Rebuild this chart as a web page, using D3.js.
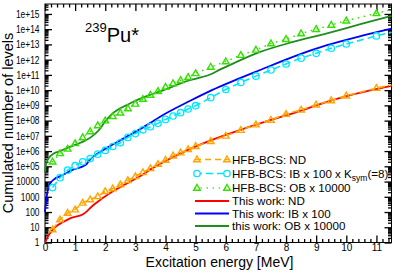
<!DOCTYPE html>
<html><head><meta charset="utf-8">
<script src="https://cdn.jsdelivr.net/npm/d3@7/dist/d3.min.js"></script>
<style>
body{margin:0;background:#fff}
svg{display:block}
text{font-family:"Liberation Sans",Arial,Helvetica,sans-serif;fill:#000}
</style>
</head><body>
<svg id="chart" width="394" height="273"></svg>
<script>
// ---------- data ----------
// HFB-BCS calculations (markers), excitation energy in MeV
const hfbEnergy = [0.25,0.5,0.75,1.0,1.25,1.5,1.75,2.0,2.25,2.5,2.75,3.0,3.25,3.5,3.75,4.0,4.25,4.5,4.75,5.0,
                   5.5,6.0,6.5,7.0,7.5,8.0,8.5,9.0,9.5,10.0,11.0,11.5];
const hfbND = [7.1,32,87,145,400,660,1070,2300,3500,6300,1.2e4,2.2e4,4.0e4,7.4e4,1.4e5,2.6e5,5.0e5,7.9e5,1.3e6,2.1e6,
               4.4e6,1.0e7,2.4e7,5.5e7,1.1e8,2.7e8,5.1e8,1.1e9,2.1e9,4.3e9,1.35e10,2.2e10];
const hfbIB = [4.0e3,1.8e4,5.6e4,1.1e5,2.0e5,3.2e5,6.3e5,1.1e6,2.0e6,3.5e6,7.9e6,1.4e7,2.5e7,4.0e7,6.6e7,1.2e8,2.0e8,3.3e8,5.8e8,9.5e8,
               3.2e9,1.1e10,3.2e10,8.3e10,2.1e11,5.2e11,1.26e12,2.6e12,5.6e12,1.07e13,3.6e13,6.3e13];
const hfbOB = [2.0e5,7.1e5,1.4e6,3.2e6,7.9e6,1.95e7,4.8e7,1.0e8,1.9e8,3.3e8,6.3e8,1.26e9,2.6e9,4.8e9,8.5e9,1.6e10,2.75e10,4.5e10,7.1e10,1.26e11,
               3.3e11,7.6e11,2.0e12,4.4e12,1.15e13,2.2e13,5.2e13,1.0e14,1.9e14,3.6e14,1.1e15,1.9e15];
const hfbMarkerMaxE = 11.0;

// This work (solid lines)
const ndEnergy = [0,0.1,0.3,0.6,0.85,1.25,1.6,2.2,2.7,3.15,3.5,4.5,5.5,6.5,7.5,8.5,9.0,10.0,11.5];
const workND   = [1,2.5,8.9,22,40,68,280,2.0e3,7.1e3,2.2e4,6.3e4,7.1e5,5.0e6,2.5e7,1.1e8,4.5e8,1.0e9,4.0e9,1.9e10];

const ibEnergy = [0,0.03,0.08,0.15,0.3,0.5,0.9,1.3,1.38,1.45,1.88,2.4,2.9,3.5,3.82,4.82,5.54,6.31,7.14,8.25,9.36,10.47,11.5];
const workIB   = [100,400,2.0e3,6.3e3,1.4e4,2.2e4,5.6e4,1.1e5,1.4e5,2.2e5,1.0e6,4.0e6,1.4e7,7.1e7,1.8e8,2.0e9,1.0e10,4.5e10,2.1e11,1.6e12,8.9e12,3.5e13,1.1e14];

const obEnergy = [0,0.02,0.06,0.15,0.3,0.5,0.8,1.05,1.3,1.55,1.8,2.0,2.2,2.4,2.7,3.0,3.5,4.0,4.5,4.9,5.2,5.5,5.8,6.3,7.14,8.2,9.36,10.5,11.5];
const workOB   = [4.0e4,8.9e4,2.0e5,4.0e5,7.1e5,1.0e6,1.8e6,2.8e6,4.5e6,8.9e6,2.5e7,8.9e7,2.5e8,5.0e8,1.0e9,2.0e9,5.0e9,1.1e10,2.8e10,5.0e10,7.1e10,1.1e11,2.2e11,6.3e11,3.2e12,1.4e13,5.4e13,2.2e14,7.4e14];

// axes
const xTickValues = [0,1,2,3,4,5,6,7,8,9,10,11];
const yTickValues = [1,1e1,1e2,1e3,1e4,1e5,1e6,1e7,1e8,1e9,1e10,1e11,1e12,1e13,1e14,1e15];
const yTickLabels = ["1","10","100","1000","10000","1e+05","1e+06","1e+07","1e+08","1e+09","1e+10","1e+11","1e+12","1e+13","1e+14","1e+15"];

// ---------- drawing ----------
const svg = d3.select("#chart");
const L = 45, R = 391.5, T = 4, B = 242.5;
const x = d3.scaleLinear().domain([0, 11.5]).range([L, R]);
const y = d3.scaleLog().domain([1, 4.5e15]).range([B, T]);

const xMinor = d3.range(0, 11.5001, 0.2).map(v => +v.toFixed(2)).filter(v => Math.abs(v - Math.round(v)) > 1e-6);
const yMinor = [];
for (let k = 0; k <= 15; k++) for (let m = 2; m <= 9; m++) { const v = m * Math.pow(10, k); if (v <= 4.5e15) yMinor.push(v); }

const MAJ = 7, MIN = 3.5;
function styleAxis(g) {
  g.select(".domain").remove();
  g.selectAll(".tick line").attr("stroke", "#000").attr("stroke-width", 1.3);
}
// bottom
svg.append("g").attr("transform", `translate(0,${B})`)
  .call(d3.axisBottom(x).tickValues(xTickValues).tickSize(-MAJ).tickPadding(1.5).tickFormat(d3.format("d")))
  .call(styleAxis)
  .call(g => g.selectAll("text").attr("font-size", 10));
svg.append("g").attr("transform", `translate(0,${B})`)
  .call(d3.axisBottom(x).tickValues(xMinor).tickSize(-MIN).tickFormat(""))
  .call(styleAxis);
// top
svg.append("g").attr("transform", `translate(0,${T})`)
  .call(d3.axisTop(x).tickValues(xTickValues).tickSize(-MAJ).tickFormat(""))
  .call(styleAxis);
svg.append("g").attr("transform", `translate(0,${T})`)
  .call(d3.axisTop(x).tickValues(xMinor).tickSize(-MIN).tickFormat(""))
  .call(styleAxis);
// left
const SX = 0.8;
svg.append("g").attr("transform", `translate(${L},0)`)
  .call(d3.axisLeft(y).tickValues(yTickValues).tickSize(-MAJ).tickPadding(5.5)
        .tickFormat((d, i) => yTickLabels[i]))
  .call(styleAxis)
  .call(g => g.selectAll("text").attr("font-size", 10.5)
        .attr("x", -5.5 / SX).attr("transform", `scale(${SX},1)`));
svg.append("g").attr("transform", `translate(${L},0)`)
  .call(d3.axisLeft(y).tickValues(yMinor).tickSize(-MIN).tickFormat(""))
  .call(styleAxis);
// right
svg.append("g").attr("transform", `translate(${R},0)`)
  .call(d3.axisRight(y).tickValues(yTickValues).tickSize(-MAJ).tickFormat(""))
  .call(styleAxis);
svg.append("g").attr("transform", `translate(${R},0)`)
  .call(d3.axisRight(y).tickValues(yMinor).tickSize(-MIN).tickFormat(""))
  .call(styleAxis);

// frame
svg.append("rect").attr("x", L).attr("y", T).attr("width", R - L).attr("height", B - T)
  .attr("fill", "none").attr("stroke", "#000").attr("stroke-width", 1);

const plot = svg.append("g");
const line = d3.line().x(d => x(d[0])).y(d => y(d[1]));
const smooth = d3.line().x(d => x(d[0])).y(d => y(d[1])).curve(d3.curveMonotoneX);
const zip = (a, b) => a.map((e, i) => [e, b[i]]);

const COLORS = {
  workND: "#ff0000", workIB: "#0000ff", workOB: "#1e8c1e",
  hfbND: "#ffa500", hfbIB: "#00e5ff", hfbOB: "#33e000"
};

// This work: solid lines
[[ndEnergy, workND, COLORS.workND], [ibEnergy, workIB, COLORS.workIB], [obEnergy, workOB, COLORS.workOB]]
  .forEach(([e, v, c]) => {
    plot.append("path").datum(zip(e, v)).attr("d", smooth)
      .attr("fill", "none").attr("stroke", c).attr("stroke-width", 1.8).attr("stroke-linejoin", "round");
  });

const TRI = 3.5;
const triPath = s => `M0,${-s}L${s * 0.95},${s * 0.65}L${-s * 0.95},${s * 0.65}Z`;

function hfbSeries(values, color, dash, marker) {
  const pts = zip(hfbEnergy, values);
  plot.append("path").datum(pts).attr("d", line)
    .attr("fill", "none").attr("stroke", color).attr("stroke-width", 1.6)
    .attr("stroke-dasharray", dash).attr("stroke-linecap", marker === "dot" ? "round" : "butt");
  const mk = plot.append("g").selectAll("g").data(pts.filter(p => p[0] <= hfbMarkerMaxE)).join("g")
    .attr("transform", d => `translate(${x(d[0])},${y(d[1])})`);
  if (marker === "circle") {
    mk.append("circle").attr("r", 3.2).attr("fill", "none").attr("stroke", color).attr("stroke-width", 1.3);
  } else {
    mk.append("path").attr("d", triPath(TRI)).attr("fill", "none").attr("stroke", color).attr("stroke-width", 1.4);
  }
}
hfbSeries(hfbND, COLORS.hfbND, "6,4", "tri");
hfbSeries(hfbIB, COLORS.hfbIB, "7,4", "circle");
hfbSeries(hfbOB, COLORS.hfbOB, "0.1,6", "dot");

// ---------- legend ----------
const legend = svg.append("g");
const lx0 = 197, lx1 = 227, tx = 232;
const items = [
  {y: 159.5, color: COLORS.hfbND, dash: "6,4", marker: "tri", label: "HFB-BCS: ND"},
  {y: 173.5, color: COLORS.hfbIB, dash: "7,4", marker: "circle", label: "HFB-BCS: IB x 100 x K", sub: "sym", after: "(=8)"},
  {y: 188, color: COLORS.hfbOB, dash: "0.1,6", marker: "dot", label: "HFB-BCS: OB x 10000"},
  {y: 201, color: COLORS.workND, label: "This work: ND"},
  {y: 213.5, color: COLORS.workIB, label: "This work: IB x 100"},
  {y: 226, color: COLORS.workOB, label: "this work: OB x 10000"}
];
items.forEach(it => {
  legend.append("line").attr("x1", lx0 - 2).attr("x2", lx1 + 2).attr("y1", it.y).attr("y2", it.y)
    .attr("stroke", it.color).attr("stroke-width", it.marker ? 1.6 : 1.8)
    .attr("stroke-dasharray", it.dash || null).attr("stroke-linecap", it.marker === "dot" ? "round" : "butt");
  if (it.marker) {
    [lx0, lx1].forEach(px => {
      if (it.marker === "circle") {
        legend.append("circle").attr("cx", px).attr("cy", it.y).attr("r", 3.2)
          .attr("fill", "#fff").attr("stroke", it.color).attr("stroke-width", 1.3);
      } else {
        legend.append("path").attr("transform", `translate(${px},${it.y})`).attr("d", triPath(TRI))
          .attr("fill", "none").attr("stroke", it.color).attr("stroke-width", 1.4);
      }
    });
  }
  const t = legend.append("text").attr("x", tx).attr("y", it.y + 4.2).attr("font-size", 11.6).text(it.label);
  if (it.sub) {
    t.append("tspan").attr("font-size", 8.5).attr("dy", 3).text(it.sub);
    t.append("tspan").attr("font-size", 11.6).attr("dy", -3).text(it.after);
  }
});

// ---------- labels ----------
svg.append("text").attr("x", 219.5).attr("y", 267).attr("text-anchor", "middle")
  .attr("font-size", 14).text("Excitation energy [MeV]");
svg.append("text").attr("transform", `translate(12.5,${123}) rotate(-90)`).attr("text-anchor", "middle")
  .attr("font-size", 14.5).text("Cumulated number of levels");
const title = svg.append("text").attr("x", 85).attr("y", 42).attr("font-size", 20);
title.append("tspan").attr("font-size", 13).attr("dy", -10).text("239");
title.append("tspan").attr("dy", 10).text("Pu*");
</script>
</body></html>
